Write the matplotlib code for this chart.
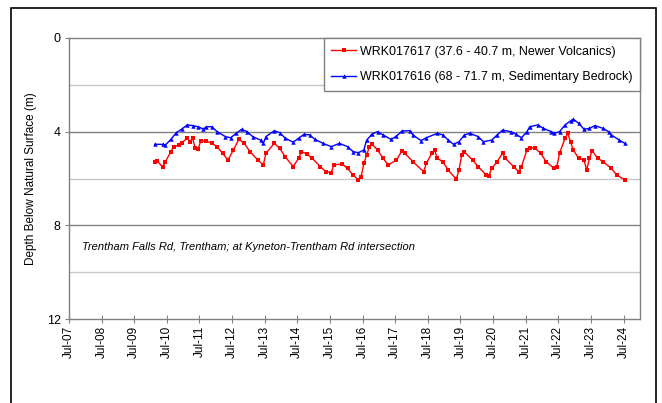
import numpy as np
import pandas as pd
import matplotlib
matplotlib.use("Agg")
import matplotlib.pyplot as plt
import matplotlib.dates as mdates
from matplotlib.patches import Rectangle

plt.rcParams['font.family'] = ['Liberation Sans', 'DejaVu Sans']

# WRK017617 (Newer Volcanics) - depth below surface (m)
red_dates = ["2010-02", "2010-03", "2010-05", "2010-06", "2010-08", "2010-09", "2010-11", "2010-12",
             "2011-02", "2011-03", "2011-04", "2011-05", "2011-06", "2011-07", "2011-09", "2011-11",
             "2012-01", "2012-03", "2012-05", "2012-07", "2012-09", "2012-11", "2013-01", "2013-04",
             "2013-06", "2013-07", "2013-10", "2013-12", "2014-02", "2014-05", "2014-07", "2014-08",
             "2014-10", "2014-12", "2015-03", "2015-05", "2015-07", "2015-08", "2015-11", "2016-01",
             "2016-03", "2016-05", "2016-06", "2016-07", "2016-08", "2016-09", "2016-10", "2016-12",
             "2017-02", "2017-04", "2017-07", "2017-09", "2017-10", "2018-01", "2018-05", "2018-06",
             "2018-08", "2018-09", "2018-10", "2018-12", "2019-02", "2019-05", "2019-06", "2019-07",
             "2019-08", "2019-11", "2020-01", "2020-04", "2020-05", "2020-06", "2020-08", "2020-10",
             "2020-11", "2021-02", "2021-04", "2021-05", "2021-07", "2021-08", "2021-10", "2021-12",
             "2022-02", "2022-05", "2022-06", "2022-07", "2022-09", "2022-10", "2022-11", "2022-12",
             "2023-02", "2023-04", "2023-05", "2023-06", "2023-07", "2023-09", "2023-11", "2024-02",
             "2024-04", "2024-07"]
red_depth = [5.30, 5.24, 5.52, 5.28, 4.85, 4.64, 4.57, 4.47,
             4.28, 4.43, 4.28, 4.71, 4.75, 4.40, 4.40, 4.50,
             4.64, 4.92, 5.21, 4.78, 4.33, 4.50, 4.85, 5.21,
             5.42, 4.92, 4.50, 4.71, 5.07, 5.49, 5.14, 4.85,
             4.95, 5.14, 5.49, 5.71, 5.75, 5.42, 5.38, 5.57,
             5.85, 6.06, 5.92, 5.35, 5.00, 4.64, 4.54, 4.78,
             5.14, 5.42, 5.21, 4.81, 4.92, 5.28, 5.71, 5.35,
             4.92, 4.78, 5.14, 5.28, 5.64, 6.03, 5.65, 5.00,
             4.87, 5.21, 5.49, 5.85, 5.88, 5.57, 5.28, 4.92,
             5.14, 5.49, 5.71, 5.49, 4.78, 4.68, 4.71, 4.92,
             5.28, 5.57, 5.49, 4.92, 4.28, 4.07, 4.43, 4.78,
             5.14, 5.21, 5.64, 5.14, 4.81, 5.14, 5.28, 5.57,
             5.85, 6.06]

# WRK017616 (Sedimentary Bedrock) - depth below surface (m)
blue_dates = ["2010-02", "2010-05", "2010-06", "2010-08", "2010-10", "2010-12", "2011-02", "2011-04",
              "2011-06", "2011-08", "2011-09", "2011-11", "2012-01", "2012-04", "2012-06", "2012-08",
              "2012-10", "2012-12", "2013-02", "2013-05", "2013-06", "2013-07", "2013-10", "2013-12",
              "2014-02", "2014-05", "2014-07", "2014-09", "2014-11", "2015-01", "2015-04", "2015-07",
              "2015-10", "2016-01", "2016-03", "2016-05", "2016-07", "2016-08", "2016-10", "2016-12",
              "2017-02", "2017-05", "2017-07", "2017-09", "2017-12", "2018-01", "2018-04", "2018-06",
              "2018-10", "2018-12", "2019-02", "2019-04", "2019-06", "2019-08", "2019-10", "2020-01",
              "2020-03", "2020-06", "2020-08", "2020-10", "2021-01", "2021-03", "2021-05", "2021-07",
              "2021-08", "2021-11", "2022-01", "2022-04", "2022-05", "2022-07", "2022-09", "2022-11",
              "2022-12", "2023-02", "2023-04", "2023-06", "2023-08", "2023-11", "2024-01", "2024-02",
              "2024-05", "2024-07"]
blue_depth = [4.54, 4.54, 4.57, 4.33, 4.04, 3.89, 3.71, 3.74,
              3.79, 3.89, 3.79, 3.79, 4.00, 4.21, 4.26, 4.07,
              3.90, 4.00, 4.21, 4.36, 4.50, 4.21, 3.96, 4.04,
              4.28, 4.45, 4.28, 4.11, 4.14, 4.33, 4.50, 4.64,
              4.50, 4.64, 4.85, 4.90, 4.78, 4.36, 4.10, 4.00,
              4.14, 4.33, 4.19, 3.97, 3.96, 4.14, 4.38, 4.26,
              4.07, 4.14, 4.36, 4.54, 4.43, 4.14, 4.07, 4.21,
              4.43, 4.36, 4.14, 3.93, 4.00, 4.11, 4.26, 4.00,
              3.79, 3.71, 3.86, 4.00, 4.07, 4.00, 3.71, 3.54,
              3.47, 3.64, 3.90, 3.86, 3.74, 3.86, 4.00, 4.14,
              4.36, 4.50]

tick_years = list(range(2007, 2025))

red_x = pd.to_datetime([d + "-15" for d in red_dates])
blue_x = pd.to_datetime([d + "-15" for d in blue_dates])

fig = plt.figure(figsize=(6.62, 4.03), dpi=100)
ax = fig.add_axes([69 / 662, 84 / 403, 571 / 662, 281 / 403])

# gridlines: every 2 m, darker at labelled depths
for d in [2, 6, 10]:
    ax.axhline(d, color='#c8c8c8', lw=1, zorder=1)
for d in [4, 8]:
    ax.axhline(d, color='#808080', lw=1, zorder=1)

ax.plot(red_x, red_depth, color='#ff0000', lw=1, marker='s', ms=3, mew=0,
        label='WRK017617 (37.6 - 40.7 m, Newer Volcanics)', zorder=3)
ax.plot(blue_x, blue_depth, color='#0000ff', lw=1, marker='^', ms=3.2, mew=0,
        label='WRK017616 (68 - 71.7 m, Sedimentary Bedrock)', zorder=3)

ax.set_ylim(12, 0)
ax.set_yticks([0, 4, 8, 12])
ax.set_xlim(pd.Timestamp("2007-07-01"), pd.Timestamp("2025-01-01"))
ticks = [pd.Timestamp(f"{y}-07-01") for y in tick_years]
ax.set_xticks(ticks)
ax.set_xticklabels([t.strftime("%b-%y") for t in ticks], rotation=90)
ax.tick_params(axis='x', direction='inout', length=6, color='#808080', labelsize=8.5, pad=2)
ax.tick_params(axis='y', direction='inout', length=6, color='#808080', labelsize=9, pad=3)

for s in ax.spines.values():
    s.set_color('#808080')
    s.set_linewidth(1)

ax.set_ylabel('Depth Below Natural Surface (m)', fontsize=8.5, labelpad=7)

ax.text(0.022, 0.255, 'Trentham Falls Rd, Trentham; at Kyneton-Trentham Rd intersection',
        transform=ax.transAxes, fontsize=8, style='italic', va='center')

leg = ax.legend(loc='upper right', bbox_to_anchor=(1.0, 1.0), borderaxespad=0,
                fontsize=9, fancybox=False, framealpha=1, edgecolor='#808080',
                handlelength=2.0, handletextpad=0.3, labelspacing=1.1, borderpad=0.6)
leg.get_frame().set_linewidth(1)

# outer frame of the chart area
fig.patches.append(Rectangle((11 / 662, -0.1), 645 / 662, 1.1 - 8 / 403,
                             transform=fig.transFigure, fill=False,
                             edgecolor='black', lw=1.2))

fig.savefig('out.png', dpi=100)
